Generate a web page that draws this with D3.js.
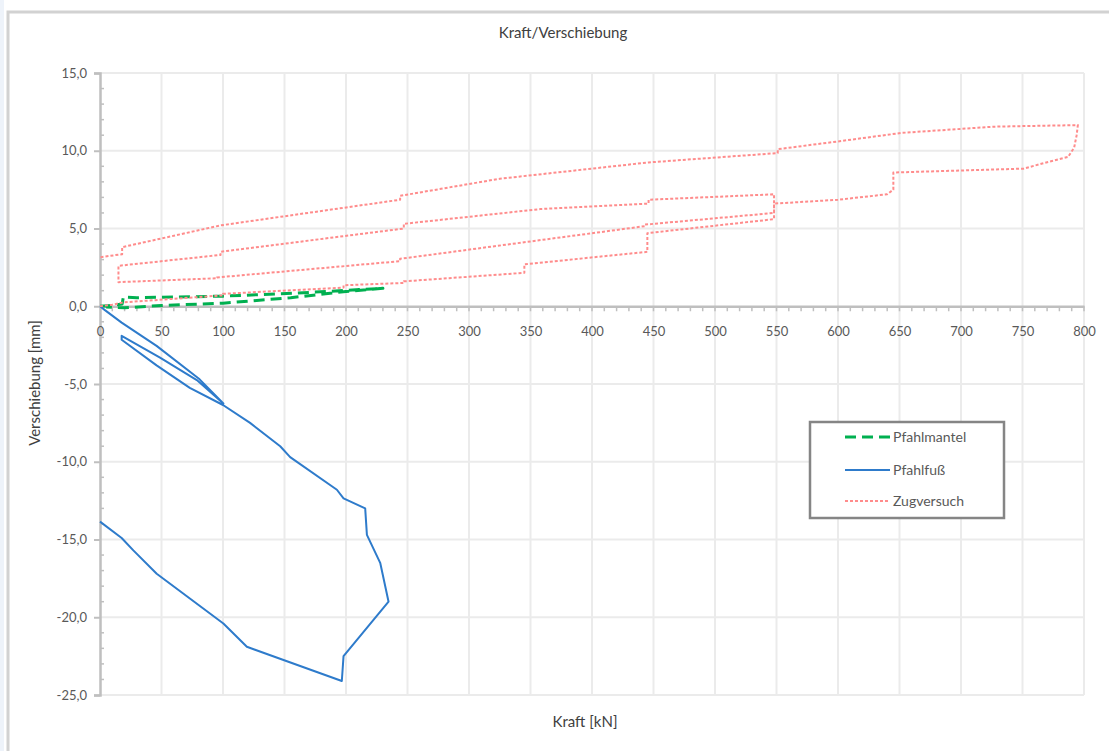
<!DOCTYPE html>
<html>
<head>
<meta charset="utf-8">
<script src="https://cdn.jsdelivr.net/npm/d3@7"></script>
<style>
  html, body { margin: 0; padding: 0; background: #fff; }
  svg { display: block; font-family: Lato, "Open Sans", sans-serif; }
</style>
</head>
<body>
<svg id="chart" width="1109" height="751"></svg>
<script>
// Pfahlmantel (green, dashed)
const mantelKraft = [0, 10, 18, 19, 30, 100, 160, 230, 200, 155, 100, 50, 20, 5];
const mantelWeg   = [0, 0.05, 0.15, 0.6, 0.55, 0.65, 0.85, 1.15, 0.95, 0.55, 0.2, 0.05, -0.1, -0.05];

// Pfahlfuss (blue, solid)
const fussKraft = [0, 4, 17.6, 46, 81, 100.3, 78.7, 48.8, 17.6, 17.6, 46, 73, 100,
  122, 146.5, 154.6, 192.6, 198, 215.6, 217, 227.8, 234.6, 198, 196.6, 119.4, 100.3, 46.1, 27.1, 17.6, 0];
const fussWeg = [0, -0.25, -1.05, -2.55, -4.7, -6.25, -4.75, -3.3, -1.9, -2.15, -3.8, -5.25, -6.35,
  -7.5, -9.0, -9.7, -11.8, -12.35, -13.0, -14.7, -16.5, -19.0, -22.5, -24.1, -21.9, -20.4, -17.2, -15.7, -14.9, -13.85];

// Zugversuch (red, dotted)
const zugKraft = [0, 10, 19, 100, 100, 198, 198, 247, 247, 345, 345, 445, 445, 548, 548,
  446, 446, 358, 247, 247, 98, 98, 15, 15,
  95, 95, 244, 244, 443, 443, 548, 548,
  600, 640, 645, 645, 751, 767, 787, 792, 794, 795,
  727, 652, 600, 551, 551, 446, 325, 244, 244, 98, 18, 18, 0];
const zugWeg = [0, 0.1, 0.25, 0.7, 0.8, 1.2, 1.35, 1.5, 1.6, 2.15, 2.7, 3.5, 4.7, 5.6, 7.2,
  6.85, 6.6, 6.25, 5.3, 5.0, 3.5, 3.3, 2.6, 1.55,
  1.8, 1.85, 2.9, 3.05, 5.15, 5.25, 6.0, 6.6,
  6.85, 7.2, 7.5, 8.6, 8.85, 9.2, 9.6, 10.2, 11.0, 11.65,
  11.55, 11.15, 10.6, 10.1, 9.85, 9.25, 8.2, 7.1, 6.85, 5.2, 3.8, 3.35, 3.15];

const xTicks = d3.range(0, 801, 50);
const yTicks = d3.range(-25, 16, 5);

const series = [
  { name: "Pfahlmantel", kraft: mantelKraft, weg: mantelWeg, color: "#00b050", width: 3, dash: "11,6" },
  { name: "Pfahlfuß", kraft: fussKraft, weg: fussWeg, color: "#2e7bcb", width: 2, dash: null },
  { name: "Zugversuch", kraft: zugKraft, weg: zugWeg, color: "#ff8c8c", width: 2, dash: "3,2" }
];

const svg = d3.select("#chart");

// chart frame
svg.append("rect").attr("x", 0).attr("y", 0).attr("width", 4).attr("height", 751).attr("fill", "#eef3fa");
svg.append("rect")
  .attr("x", 8).attr("y", 12).attr("width", 1125).attr("height", 760)
  .attr("fill", "#fff").attr("stroke", "#d2d2d2").attr("stroke-width", 3);

const x = d3.scaleLinear().domain([0, 800]).range([100, 1084]);
const y = d3.scaleLinear().domain([-25, 15]).range([695, 73]);

const fmt = d => d.toFixed(1).replace(".", ",");

// grid
const grid = svg.append("g").attr("stroke", "#ebebeb").attr("stroke-width", 2);
grid.selectAll("line.v").data(xTicks.filter(d => d > 0)).join("line")
  .attr("class", "v")
  .attr("x1", d => x(d)).attr("x2", d => x(d))
  .attr("y1", y(15)).attr("y2", y(-25));
grid.selectAll("line.h").data(yTicks.filter(d => d !== 0)).join("line")
  .attr("class", "h")
  .attr("x1", x(0)).attr("x2", x(800))
  .attr("y1", d => y(d)).attr("y2", d => y(d));

// minor ticks
const minor = svg.append("g").attr("stroke", "#bfbfbf").attr("stroke-width", 1.5);
minor.selectAll("line.mx").data(d3.range(10, 801, 10)).join("line")
  .attr("class", "mx")
  .attr("x1", d => x(d)).attr("x2", d => x(d))
  .attr("y1", y(0)).attr("y2", y(0) + 5);
minor.selectAll("line.my").data(d3.range(-25, 16, 1).filter(d => d % 5 !== 0)).join("line")
  .attr("class", "my")
  .attr("x1", x(0)).attr("x2", x(0) + 4)
  .attr("y1", d => y(d)).attr("y2", d => y(d));

// y axis
const yAxis = svg.append("g")
  .attr("transform", `translate(${x(0)},0)`)
  .call(d3.axisLeft(y).tickValues(yTicks).tickFormat(fmt).tickSize(6).tickPadding(7));
yAxis.select(".domain").attr("stroke", "#bfbfbf").attr("stroke-width", 2.5);
yAxis.selectAll(".tick line").attr("stroke", "#bfbfbf").attr("stroke-width", 2);
yAxis.selectAll("text").attr("font-size", 13).attr("fill", "#595959").attr("font-family", "Lato, sans-serif");

// x axis at y = 0
const xAxis = svg.append("g")
  .attr("transform", `translate(0,${y(0)})`)
  .call(d3.axisBottom(x).tickValues(xTicks).tickSize(0).tickPadding(21));
xAxis.select(".domain").attr("stroke", "#bfbfbf").attr("stroke-width", 2.5);
xAxis.selectAll("text").attr("font-size", 13).attr("fill", "#595959").attr("font-family", "Lato, sans-serif");

// series
const line = d3.line().x(d => x(d[0])).y(d => y(d[1]));
series.forEach(s => {
  svg.append("path")
    .datum(s.kraft.map((k, i) => [k, s.weg[i]]))
    .attr("d", line)
    .attr("fill", "none")
    .attr("stroke", s.color)
    .attr("stroke-width", s.width)
    .attr("stroke-dasharray", s.dash)
    .attr("stroke-linejoin", "round");
});

// titles
svg.append("text").attr("x", 563).attr("y", 38).attr("text-anchor", "middle")
  .attr("font-size", 15).attr("fill", "#404040").text("Kraft/Verschiebung");
svg.append("text").attr("x", 585).attr("y", 727).attr("text-anchor", "middle")
  .attr("font-size", 15).attr("fill", "#404040").text("Kraft [kN]");
svg.append("text").attr("transform", "translate(40,383) rotate(-90)").attr("text-anchor", "middle")
  .attr("font-size", 15).attr("fill", "#404040").text("Verschiebung [mm]");

// legend
const legend = svg.append("g");
legend.append("rect").attr("x", 810).attr("y", 422).attr("width", 194).attr("height", 96)
  .attr("fill", "#fff").attr("stroke", "#858585").attr("stroke-width", 2.5);
const rows = legend.selectAll("g.item").data(series).join("g")
  .attr("class", "item")
  .attr("transform", (d, i) => `translate(845,${[437, 470, 501][i]})`);
rows.append("line").attr("x1", 0).attr("x2", 45).attr("y1", 0).attr("y2", 0)
  .attr("stroke", d => d.color).attr("stroke-width", d => d.width).attr("stroke-dasharray", d => d.dash);
rows.append("text").attr("x", 48).attr("dy", "0.35em").attr("font-size", 14).attr("fill", "#595959")
  .text(d => d.name);
</script>
</body>
</html>
